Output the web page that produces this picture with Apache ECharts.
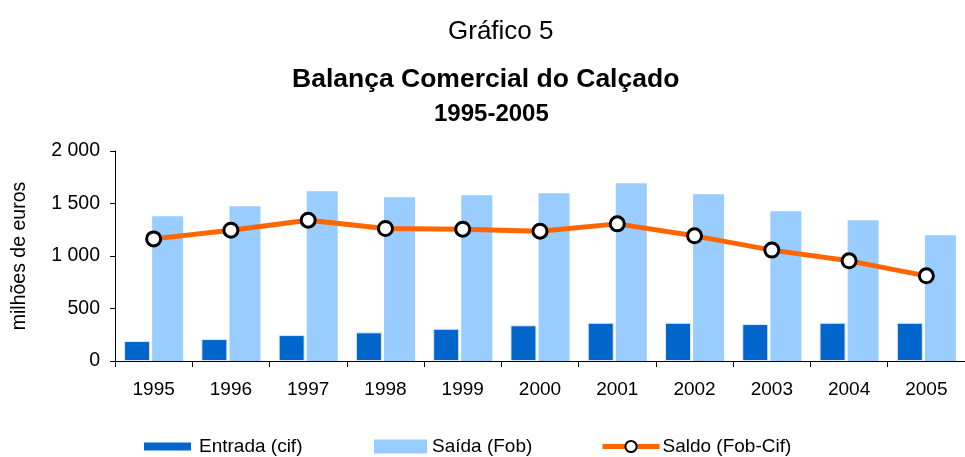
<!DOCTYPE html>
<html>
<head>
<meta charset="utf-8">
<script src="https://cdn.jsdelivr.net/npm/echarts@6/dist/echarts.min.js"></script>
<style>
  html, body { margin: 0; padding: 0; background: #fff; }
  #chart { width: 965px; height: 457px; }
</style>
</head>
<body>
<div id="chart"></div>
<script>
var years = ["1995", "1996", "1997", "1998", "1999", "2000", "2001", "2002", "2003", "2004", "2005"];
var entrada = [190, 209, 247, 273, 307, 340, 364, 364, 352, 364, 364];
var saida = [1379, 1474, 1617, 1560, 1579, 1598, 1693, 1588, 1427, 1341, 1198];
var saldo = [1163, 1246, 1341, 1262, 1255, 1236, 1306, 1192, 1056, 954, 811];
var yTicks = [0, 500, 1000, 1500, 2000];

var chart = echarts.init(document.getElementById("chart"));
var font = "Liberation Sans, Arial, sans-serif";
var legendText = { fontSize: 19, color: "#000", fontFamily: font };

chart.setOption({
  animation: false,
  textStyle: { fontFamily: font },
  title: [
    {
      text: "Gráfico 5",
      left: 443,
      top: 14,
      textStyle: { fontSize: 26, fontWeight: "normal", color: "#000", fontFamily: font },
    },
    {
      text: "Balança Comercial do Calçado",
      left: 287,
      top: 61,
      textStyle: { fontSize: 26.5, fontWeight: "bold", color: "#000", fontFamily: font },
    },
    {
      text: "1995-2005",
      left: 429,
      top: 97,
      textStyle: { fontSize: 24, fontWeight: "bold", color: "#000", fontFamily: font },
    },
  ],
  // three legends, the icons differ in size in the original
  legend: [
    {
      left: 144,
      top: 437,
      padding: 0,
      icon: "rect",
      itemWidth: 47,
      itemHeight: 8,
      itemStyle: { borderWidth: 0 },
      textStyle: Object.assign({ padding: [0, 0, 0, 3] }, legendText),
      data: ["Entrada (cif)"],
    },
    {
      left: 374,
      top: 437,
      padding: 0,
      icon: "rect",
      itemWidth: 53,
      itemHeight: 14,
      textStyle: legendText,
      data: ["Saída (Fob)"],
    },
    {
      left: 600,
      top: 437,
      padding: 0,
      itemWidth: 57,
      itemHeight: 14,
      lineStyle: { width: 5, color: "#ff6600" },
      textStyle: Object.assign({ padding: [0, 0, 0, -2] }, legendText),
      data: ["Saldo (Fob-Cif)"],
    },
  ],
  grid: {
    left: 115,
    top: 151,
    width: 853,
    height: 210,
  },
  xAxis: {
    type: "category",
    data: years,
    axisLine: { lineStyle: { color: "#000", width: 1 } },
    axisTick: { show: true, length: 6, lineStyle: { color: "#000" } },
    axisLabel: { color: "#000", fontSize: 19, margin: 19, fontFamily: font },
  },
  yAxis: {
    type: "value",
    min: yTicks[0],
    max: yTicks[yTicks.length - 1],
    interval: 500,
    name: "milhões de euros",
    nameLocation: "middle",
    nameGap: 85,
    nameRotate: 90,
    nameTextStyle: { color: "#000", fontSize: 19.5, fontFamily: font },
    axisLine: { show: true, lineStyle: { color: "#000" } },
    axisTick: { show: true, length: 5, lineStyle: { color: "#000" } },
    splitLine: { show: false },
    axisLabel: {
      color: "#000",
      fontSize: 19.5,
      margin: 15,
      fontFamily: font,
      formatter: function (v) {
        return String(v).replace(/\B(?=(\d{3})+(?!\d))/g, " ");
      },
    },
  },
  series: [
    {
      name: "Entrada (cif)",
      type: "bar",
      data: entrada,
      barWidth: 26,
      barGap: "8%",
      itemStyle: { color: "#0066cc", borderColor: "#dbe9fb", borderWidth: 1 },
    },
    {
      name: "Saída (Fob)",
      type: "bar",
      data: saida,
      barWidth: 31,
      itemStyle: { color: "#99ccff" },
    },
    {
      name: "Saldo (Fob-Cif)",
      type: "line",
      data: saldo,
      symbol: "circle",
      symbolSize: 14,
      lineStyle: { color: "#ff6600", width: 5 },
      itemStyle: { color: "#fff", borderColor: "#000", borderWidth: 3 },
      z: 5,
    },
  ],
});
</script>
</body>
</html>
